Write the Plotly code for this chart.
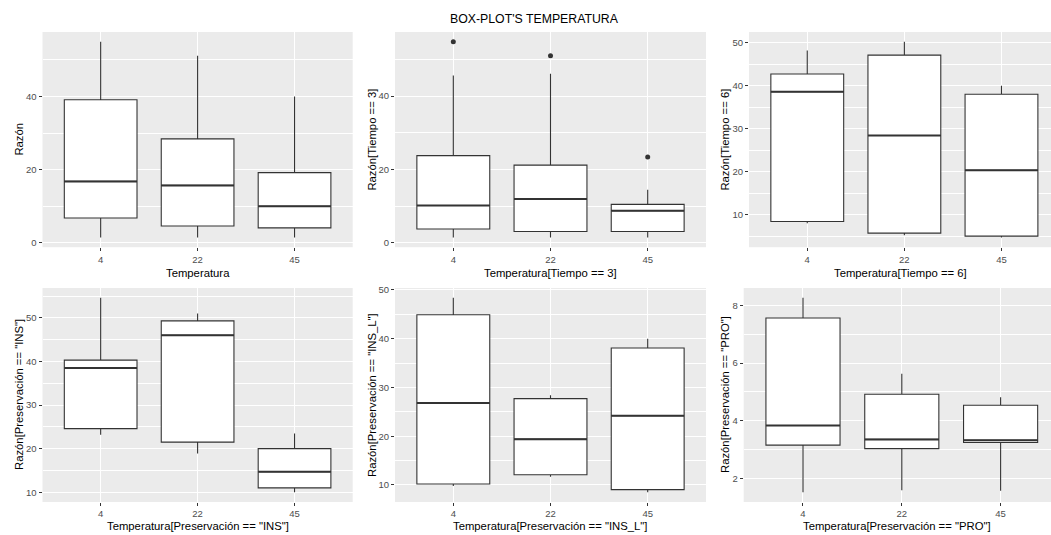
import plotly.graph_objects as go

# Temperature groups (categories on every x axis)
temperaturas = ["4", "22", "45"]

# Five-number summaries per panel: lower whisker, Q1, median, Q3, upper whisker
razon_lo = [1.5, 1.5, 1.5]
razon_q1 = [6.8, 4.6, 4.1]
razon_med = [16.8, 15.7, 10.0]
razon_q3 = [39.1, 28.4, 19.2]
razon_hi = [54.9, 51.1, 40.0]

t3_lo = [1.5, 1.5, 1.5]
t3_q1 = [3.8, 3.1, 3.1]
t3_med = [10.2, 12.0, 8.8]
t3_q3 = [23.8, 21.2, 10.5]
t3_hi = [45.6, 46.1, 14.5]
t3_out = [[54.8], [51.0], [23.4]]

t6_lo = [8.0, 5.2, 4.7]
t6_q1 = [8.4, 5.7, 5.0]
t6_med = [38.6, 28.4, 20.3]
t6_q3 = [42.7, 47.1, 38.0]
t6_hi = [48.2, 50.2, 40.0]

ins_lo = [23.2, 18.9, 10.0]
ins_q1 = [24.6, 21.5, 11.0]
ins_med = [38.5, 46.0, 14.7]
ins_q3 = [40.3, 49.3, 20.0]
ins_hi = [54.6, 51.0, 23.5]

insl_lo = [9.8, 11.7, 8.5]
insl_q1 = [10.2, 12.1, 9.05]
insl_med = [26.8, 19.4, 24.2]
insl_q3 = [44.9, 27.7, 38.1]
insl_hi = [48.4, 28.4, 40.0]

pro_lo = [1.53, 1.60, 1.58]
pro_q1 = [3.16, 3.04, 3.25]
pro_med = [3.84, 3.36, 3.33]
pro_q3 = [7.56, 4.92, 4.54]
pro_hi = [8.26, 5.63, 4.82]

# Major y tick labels per panel
ticks_razon = [0, 20, 40]
ticks_t3 = [0, 20, 40]
ticks_t6 = [10, 20, 30, 40, 50]
ticks_ins = [10, 20, 30, 40, 50]
ticks_insl = [10, 20, 30, 40, 50]
ticks_pro = [2, 4, 6, 8]

# Axis titles
ytitles = ["Razón", "Razón[Tiempo == 3]", "Razón[Tiempo == 6]",
           'Razón[Preservación == "INS"]', 'Razón[Preservación == "INS_L"]',
           'Razón[Preservación == "PRO"]']
xtitles = ["Temperatura", "Temperatura[Tiempo == 3]", "Temperatura[Tiempo == 6]",
           'Temperatura[Preservación == "INS"]', 'Temperatura[Preservación == "INS_L"]',
           'Temperatura[Preservación == "PRO"]']

panels = [
    (razon_lo, razon_q1, razon_med, razon_q3, razon_hi, None, ticks_razon),
    (t3_lo, t3_q1, t3_med, t3_q3, t3_hi, t3_out, ticks_t3),
    (t6_lo, t6_q1, t6_med, t6_q3, t6_hi, None, ticks_t6),
    (ins_lo, ins_q1, ins_med, ins_q3, ins_hi, None, ticks_ins),
    (insl_lo, insl_q1, insl_med, insl_q3, insl_hi, None, ticks_insl),
    (pro_lo, pro_q1, pro_med, pro_q3, pro_hi, None, ticks_pro),
]

W, H = 1051, 535
# panel boxes in pixels: (left, right, top, bottom)
px_boxes = [
    (42.5, 352.7, 28.3, 245.5),
    (395.0, 706.0, 28.3, 245.5),
    (749.0, 1051.0, 28.3, 245.5),
    (42.5, 352.7, 286.7, 502.7),
    (395.0, 706.0, 286.7, 502.7),
    (743.7, 1051.0, 286.7, 502.7),
]
xmax = [2.6, 2.6, 2.51, 2.6, 2.6, 2.51]
ytitle_x = [19, 372, 725, 19, 372, 725]
xtitle_y = [271.5, 271.5, 271.5, 527, 527, 527]

BOXW = 0.75
LINE = "#333333"
fig = go.Figure()
layout = {}
annotations = []

for i, (lo, q1, med, q3, hi, out, ticks) in enumerate(panels):
    n = "" if i == 0 else str(i + 1)
    xa, ya = "x" + n, "y" + n
    xpos = list(range(len(temperaturas)))

    fig.add_trace(go.Box(
        x=xpos, lowerfence=lo, q1=q1, median=med, q3=q3, upperfence=hi,
        width=BOXW, whiskerwidth=0, fillcolor="white",
        line=dict(color=LINE, width=1.1), boxpoints=False,
        xaxis=xa, yaxis=ya, showlegend=False, hoverinfo="skip"))

    # thicker median bars, as in ggplot
    mx, my = [], []
    for p, m in zip(xpos, med):
        mx += [p - BOXW / 2, p + BOXW / 2, None]
        my += [m, m, None]
    fig.add_trace(go.Scatter(x=mx, y=my, mode="lines",
                             line=dict(color=LINE, width=2),
                             xaxis=xa, yaxis=ya, showlegend=False, hoverinfo="skip"))

    vals = lo + hi
    if out:
        ox, oy = [], []
        for p, vs in zip(xpos, out):
            for v in vs:
                ox.append(p)
                oy.append(v)
        vals += oy
        fig.add_trace(go.Scatter(x=ox, y=oy, mode="markers",
                                 marker=dict(color=LINE, size=5),
                                 xaxis=xa, yaxis=ya, showlegend=False, hoverinfo="skip"))

    vmin, vmax = min(vals), max(vals)
    pad = 0.05 * (vmax - vmin)
    step = ticks[1] - ticks[0]
    minor = [t - step / 2 for t in ticks] + [ticks[-1] + step / 2]

    l, r, t, b = px_boxes[i]
    layout["xaxis" + n] = dict(
        domain=[l / W, r / W], anchor=ya, range=[-0.6, xmax[i]],
        tickvals=xpos, ticktext=temperaturas, showgrid=True, gridcolor="white",
        gridwidth=1.2, zeroline=False, ticks="outside", ticklen=3,
        tickcolor=LINE, tickfont=dict(size=9.5, color="#4D4D4D"), showline=False)
    layout["yaxis" + n] = dict(
        domain=[1 - b / H, 1 - t / H], anchor=xa, range=[vmin - pad, vmax + pad],
        tickvals=ticks, showgrid=True, gridcolor="white", gridwidth=1.2,
        zeroline=False, ticks="outside", ticklen=3, tickcolor=LINE,
        tickfont=dict(size=9.5, color="#4D4D4D"), showline=False,
        minor=dict(tickvals=minor, showgrid=True, gridcolor="white",
                   gridwidth=0.6, ticks=""))

    annotations.append(dict(
        text=ytitles[i], x=ytitle_x[i] / W, y=1 - ((t + b) / 2) / H,
        xref="paper", yref="paper", textangle=-90, showarrow=False,
        xanchor="center", yanchor="middle", font=dict(size=11.3, color="black")))
    annotations.append(dict(
        text=xtitles[i], x=((l + min(r, l + (r - l) * 3.2 / (xmax[i] + 0.6))) / 2) / W,
        y=1 - xtitle_y[i] / H, xref="paper", yref="paper", showarrow=False,
        xanchor="center", yanchor="middle", font=dict(size=11.3, color="black")))

annotations.append(dict(
    text="BOX-PLOT'S TEMPERATURA", x=534 / W, y=1 - 15 / H, xref="paper",
    yref="paper", showarrow=False, xanchor="center", yanchor="middle",
    font=dict(size=12.3, color="black")))

fig.update_layout(
    width=W, height=H, margin=dict(l=0, r=0, t=0, b=0),
    paper_bgcolor="white", plot_bgcolor="#EBEBEB",
    font=dict(family="Liberation Sans, Arial, sans-serif"),
    annotations=annotations, **layout)

fig.write_html("out.html")
